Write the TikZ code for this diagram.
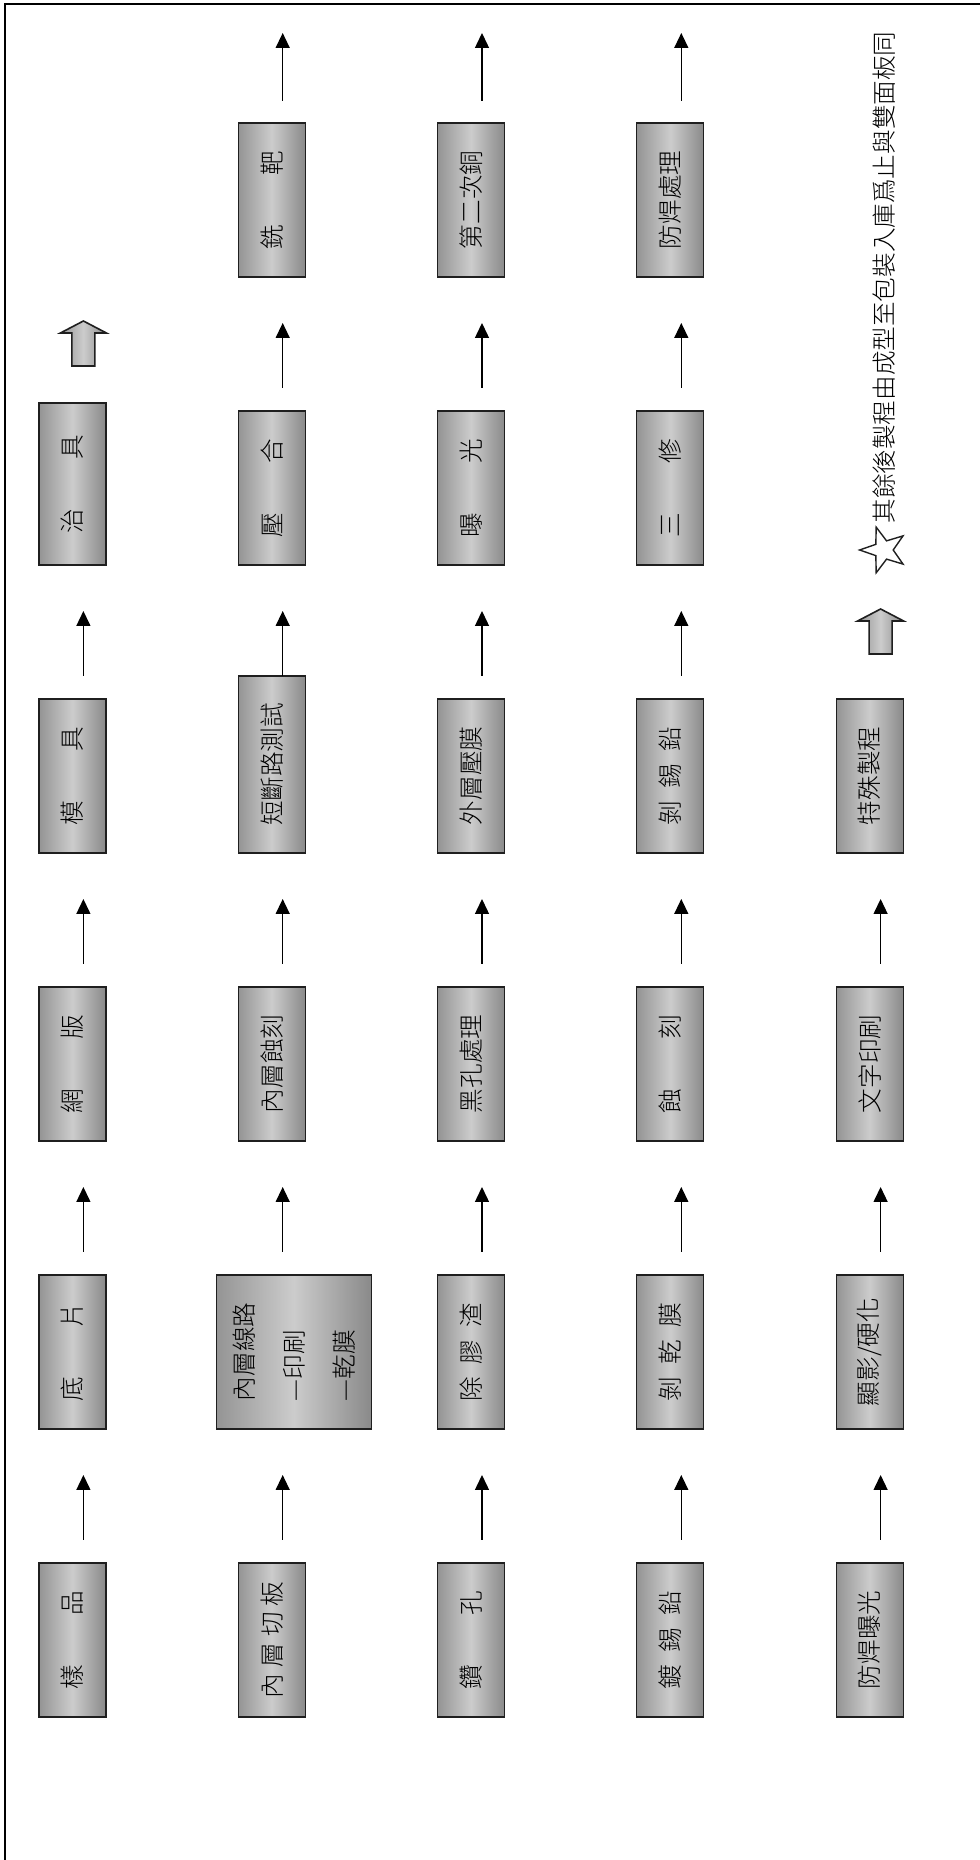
\documentclass[tikz,border=0pt]{standalone}
\usepackage{fontspec}
\setmainfont{Noto Sans CJK TC}[UprightFont=* Light]
\usetikzlibrary{positioning,arrows.meta,shapes.geometric}

\definecolor{shadeedge}{gray}{0.58}
\definecolor{shadelight}{gray}{0.80}
\definecolor{shadedark}{gray}{0.54}
\definecolor{inkline}{gray}{0.12}

\begin{document}
\begin{tikzpicture}[
  x=1pt,y=1pt,
  >={Triangle[width=7pt,length=7.5pt]},
  node distance=67pt and 66.15pt,
  stepbox/.style={draw=inkline,line width=0.6pt,minimum width=33.5pt,minimum height=77pt,
    inner sep=0pt,outer sep=0pt,left color=shadeedge,right color=shadedark,middle color=shadelight,
    font=\fontsize{12.3pt}{25pt}\selectfont},
  flow/.style={->,line width=0.7pt},
  blockup/.pic={
    \path[draw=inkline,line width=0.8pt,left color=shadeedge,right color=shadedark,middle color=shadelight]
      (-5.75,0) -- (5.75,0) -- (5.75,16.5) -- (11.5,16.5) -- (0,22.5) -- (-11.5,16.5) -- (-5.75,16.5) -- cycle;}
]
  \useasboundingbox (0,0) rectangle (490,930);
  \draw[line width=0.9pt] (2.4,0) -- (2.4,927.9) -- (490,927.9);

  % bottom row
  \node[stepbox,anchor=south] (sample) at (36.2,71.5) {\rotatebox{90}{樣\hspace{2em}品}};
  \node[stepbox,right=of sample] (cutpanel) {\rotatebox{90}{內\hspace{.25em}層\hspace{.25em}切\hspace{.25em}板}};
  \node[stepbox,right=of cutpanel] (drill) {\rotatebox{90}{鑽\hspace{2em}孔}};
  \node[stepbox,right=of drill] (tinplate) {\rotatebox{90}{鍍\hspace{.5em}錫\hspace{.5em}鉛}};
  \node[stepbox,right=of tinplate] (smexpose) {\rotatebox{90}{防焊曝光}};

  % first column
  \node[stepbox,above=of sample] (film) {\rotatebox{90}{底\hspace{2em}片}};
  \node[stepbox,above=of film] (screen) {\rotatebox{90}{網\hspace{2em}版}};
  \node[stepbox,above=of screen] (mould) {\rotatebox{90}{模\hspace{2em}具}};
  \node[stepbox,above=of mould,minimum height=81pt] (jig) {\rotatebox{90}{治\hspace{2em}具}};

  % inner layers
  \node[stepbox,above=of cutpanel,xshift=11pt,minimum width=77.5pt] (innerline)
    {\rotatebox{90}{\begin{tabular}{@{}l@{}}內層線路\\—印刷\\—乾膜\end{tabular}}};
  \node[stepbox,above=of innerline,xshift=-11pt] (inneretch) {\rotatebox{90}{內層蝕刻}};
  \node[stepbox,above=of inneretch,minimum height=88.5pt] (opentest) {\rotatebox{90}{短斷路測試}};
  \node[stepbox,above=55.5pt of opentest] (press) {\rotatebox{90}{壓\hspace{2em}合}};
  \node[stepbox,above=of press] (target) {\rotatebox{90}{銑\hspace{2em}靶}};

  % holes and outer layer
  \node[stepbox,above=of drill] (desmear) {\rotatebox{90}{除\hspace{.5em}膠\hspace{.5em}渣}};
  \node[stepbox,above=of desmear] (blackhole) {\rotatebox{90}{黑孔處理}};
  \node[stepbox,above=of blackhole] (laminate) {\rotatebox{90}{外層壓膜}};
  \node[stepbox,above=of laminate] (expose) {\rotatebox{90}{曝\hspace{2em}光}};
  \node[stepbox,above=of expose] (copper) {\rotatebox{90}{第二次銅}};

  % etching
  \node[stepbox,above=of tinplate] (stripfilm) {\rotatebox{90}{剝\hspace{.5em}乾\hspace{.5em}膜}};
  \node[stepbox,above=of stripfilm] (etch) {\rotatebox{90}{蝕\hspace{2em}刻}};
  \node[stepbox,above=of etch] (striptin) {\rotatebox{90}{剝\hspace{.5em}錫\hspace{.5em}鉛}};
  \node[stepbox,above=of striptin] (repair) {\rotatebox{90}{三\hspace{2em}修}};
  \node[stepbox,above=of repair] (solder) {\rotatebox{90}{防焊處理}};

  % solder mask
  \node[stepbox,above=of smexpose] (develop) {\rotatebox{90}{顯影/硬化}};
  \node[stepbox,above=of develop] (legend) {\rotatebox{90}{文字印刷}};
  \node[stepbox,above=of legend] (special) {\rotatebox{90}{特殊製程}};

  \node[star,star points=5,star point ratio=2.5,shape border rotate=90,draw=inkline,
    line width=0.7pt,minimum size=24pt,inner sep=0pt] (starsign) at ([xshift=7pt,yshift=74.5pt]special.north) {};
  \node[rotate=90,anchor=west,inner sep=0pt,font=\fontsize{12.3pt}{25pt}\selectfont] (note)
    at ([xshift=0.5pt,yshift=13pt]starsign.center) {其餘後製程由成型至包裝入庫爲止與雙面板同};

  \draw[flow] ([xshift=5.5pt,yshift=11.5pt]sample.north) -- ([xshift=5.5pt,yshift=-23pt]film.south);
  \draw[flow] ([xshift=5.5pt,yshift=11.5pt]film.north) -- ([xshift=5.5pt,yshift=-23pt]screen.south);
  \draw[flow] ([xshift=5.5pt,yshift=11.5pt]screen.north) -- ([xshift=5.5pt,yshift=-23pt]mould.south);
  \draw[flow] ([xshift=5.5pt,yshift=11.5pt]mould.north) -- ([xshift=5.5pt,yshift=-23pt]jig.south);
  \pic at ([xshift=5.5pt,yshift=99.5pt]jig.south) {blockup};

  \draw[flow] ([xshift=5.5pt,yshift=11.5pt]cutpanel.north) -- ([xshift=-5.5pt,yshift=-23pt]innerline.south);
  \draw[flow] ([xshift=-5.5pt,yshift=11.5pt]innerline.north) -- ([xshift=5.5pt,yshift=-23pt]inneretch.south);
  \draw[flow] ([xshift=5.5pt,yshift=11.5pt]inneretch.north) -- ([xshift=5.5pt,yshift=-23pt]opentest.south);
  \draw[flow] ([xshift=5.5pt]opentest.north) -- ([xshift=5.5pt,yshift=-23pt]press.south);
  \draw[flow] ([xshift=5.5pt,yshift=11.5pt]press.north) -- ([xshift=5.5pt,yshift=-23pt]target.south);
  \draw[flow] ([xshift=5.5pt,yshift=11pt]target.north) -- ++(0,34pt);

  \draw[flow] ([xshift=5.5pt,yshift=11.5pt]drill.north) -- ([xshift=5.5pt,yshift=-23pt]desmear.south);
  \draw[flow] ([xshift=5.5pt,yshift=11.5pt]desmear.north) -- ([xshift=5.5pt,yshift=-23pt]blackhole.south);
  \draw[flow] ([xshift=5.5pt,yshift=11.5pt]blackhole.north) -- ([xshift=5.5pt,yshift=-23pt]laminate.south);
  \draw[flow] ([xshift=5.5pt,yshift=11.5pt]laminate.north) -- ([xshift=5.5pt,yshift=-23pt]expose.south);
  \draw[flow] ([xshift=5.5pt,yshift=11.5pt]expose.north) -- ([xshift=5.5pt,yshift=-23pt]copper.south);
  \draw[flow] ([xshift=5.5pt,yshift=11pt]copper.north) -- ++(0,34pt);

  \draw[flow] ([xshift=5.5pt,yshift=11.5pt]tinplate.north) -- ([xshift=5.5pt,yshift=-23pt]stripfilm.south);
  \draw[flow] ([xshift=5.5pt,yshift=11.5pt]stripfilm.north) -- ([xshift=5.5pt,yshift=-23pt]etch.south);
  \draw[flow] ([xshift=5.5pt,yshift=11.5pt]etch.north) -- ([xshift=5.5pt,yshift=-23pt]striptin.south);
  \draw[flow] ([xshift=5.5pt,yshift=11.5pt]striptin.north) -- ([xshift=5.5pt,yshift=-23pt]repair.south);
  \draw[flow] ([xshift=5.5pt,yshift=11.5pt]repair.north) -- ([xshift=5.5pt,yshift=-23pt]solder.south);
  \draw[flow] ([xshift=5.5pt,yshift=11pt]solder.north) -- ++(0,34pt);

  \draw[flow] ([xshift=5.5pt,yshift=11.5pt]smexpose.north) -- ([xshift=5.5pt,yshift=-23pt]develop.south);
  \draw[flow] ([xshift=5.5pt,yshift=11.5pt]develop.north) -- ([xshift=5.5pt,yshift=-23pt]legend.south);
  \draw[flow] ([xshift=5.5pt,yshift=11.5pt]legend.north) -- ([xshift=5.5pt,yshift=-23pt]special.south);
  \pic at ([xshift=5.5pt,yshift=99.5pt]special.south) {blockup};
\end{tikzpicture}
\end{document}
